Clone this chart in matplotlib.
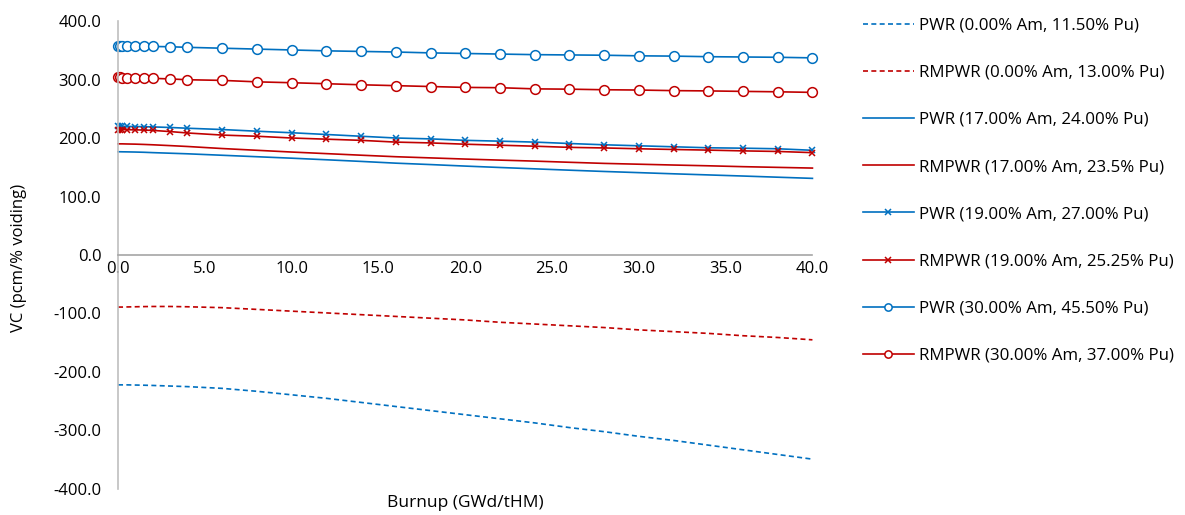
import matplotlib
matplotlib.use('Agg')
import matplotlib.pyplot as plt
from matplotlib.ticker import FormatStrFormatter

plt.rcParams['font.family'] = ['Open Sans', 'DejaVu Sans']

# burnup steps (GWd/tHM)
burnup = [0, 0.1, 0.25, 0.5, 1, 1.5, 2, 3, 4, 6, 8, 10, 12, 14, 16, 18, 20,
          22, 24, 26, 28, 30, 32, 34, 36, 38, 40]

# void coefficient (pcm/% voiding)
pwr_0 = [-222, -222, -222, -222, -222.3, -222.6, -223, -224, -225, -228, -233, -239,
         -245, -252, -259, -266, -273, -280, -287, -295, -302, -310, -317, -325,
         -333, -341, -349]
rmpwr_0 = [-89, -89, -89, -88.8, -88.5, -88.2, -88, -88, -88.5, -90, -93, -96,
           -99, -102, -105, -108, -111, -115, -118, -121, -124, -128, -131, -134,
           -138, -141, -145]
pwr_17 = [176.5, 176.5, 176.4, 176.3, 176, 175.6, 175, 174, 173, 170.5, 168, 165.5,
          162.8, 160, 157, 154.6, 152, 149.6, 147.3, 145, 142.8, 140.8, 138.8, 136.9,
          135, 133, 131]
rmpwr_17 = [190, 190, 190, 189.8, 189.5, 189, 188.4, 187, 185.5, 182, 179, 176,
            173.3, 170.6, 168, 166, 164, 162.2, 160.5, 158.5, 156.6, 155.2, 153.8,
            152.5, 151, 149.8, 148.6]
pwr_19 = [220, 220, 220, 219.8, 219.6, 219.3, 219, 218, 216.7, 214.5, 211.6, 209,
          206, 203, 200, 198.5, 196, 194.6, 193, 190.6, 188.4, 186.7, 185, 183.3,
          182.6, 181.6, 179]
rmpwr_19 = [214.5, 214.5, 214.4, 214.2, 214, 213.5, 213, 211, 208.6, 205, 203, 200,
            198, 196, 193, 191.6, 189.4, 187.7, 186, 184, 183, 181.6, 180.4, 179.3,
            178, 177, 175]
pwr_30 = [358, 358, 358, 357.5, 357, 357, 356.5, 356, 355, 353.5, 352, 350.5,
          349, 348, 347, 345.5, 344.5, 343.5, 342.5, 342, 341.5, 340.5, 340, 339,
          338.5, 338, 337]
rmpwr_30 = [303.5, 303.5, 303.4, 303.2, 303, 302.5, 302, 301, 299.6, 298.5, 296,
            294.5, 292.8, 291, 289.5, 288, 286.5, 286, 284, 283.5, 282.5, 282, 281,
            280.5, 279.7, 279, 278]

labels = ['PWR (0.00% Am, 11.50% Pu)', 'RMPWR (0.00% Am, 13.00% Pu)',
          'PWR (17.00% Am, 24.00% Pu)', 'RMPWR (17.00% Am, 23.5% Pu)',
          'PWR (19.00% Am, 27.00% Pu)', 'RMPWR (19.00% Am, 25.25% Pu)',
          'PWR (30.00% Am, 45.50% Pu)', 'RMPWR (30.00% Am, 37.00% Pu)']

blue = '#0070C0'
red = '#C00000'

fig = plt.figure(figsize=(11.85, 5.15), dpi=100)
ax = fig.add_axes([0.0996, 0.0505, 0.5860, 0.9087])

lw = 1.2
dash = (0, (3, 2))
ax.plot(burnup, pwr_0, color=blue, lw=lw, ls=dash, label=labels[0])
ax.plot(burnup, rmpwr_0, color=red, lw=lw, ls=dash, label=labels[1])
ax.plot(burnup, pwr_17, color=blue, lw=lw, label=labels[2])
ax.plot(burnup, rmpwr_17, color=red, lw=lw, label=labels[3])
ax.plot(burnup, pwr_19, color=blue, lw=lw, marker='x', ms=5, mew=1.1, label=labels[4])
ax.plot(burnup, rmpwr_19, color=red, lw=lw, marker='x', ms=5, mew=1.1, label=labels[5])
ax.plot(burnup, pwr_30, color=blue, lw=lw, marker='o', ms=7, mfc='white', mew=1.1,
        label=labels[6])
ax.plot(burnup, rmpwr_30, color=red, lw=lw, marker='o', ms=7, mfc='white', mew=1.1,
        label=labels[7])

ax.set_xlim(0, 40)
ax.set_ylim(-400, 400)
ax.set_xticks(range(0, 41, 5))
ax.set_yticks(range(-400, 401, 100))
ax.xaxis.set_major_formatter(FormatStrFormatter('%.1f'))
ax.yaxis.set_major_formatter(FormatStrFormatter('%.1f'))
ax.tick_params(length=0, labelsize=12, colors='black')
ax.tick_params(axis='x', pad=4)
ax.tick_params(axis='y', pad=12)

for s in ['top', 'right']:
    ax.spines[s].set_visible(False)
ax.spines['bottom'].set_position(('data', 0))
ax.spines['bottom'].set_color('#a6a6a6')
ax.spines['left'].set_color('#bfbfbf')
ax.spines['bottom'].set_linewidth(1.2)
ax.spines['left'].set_linewidth(1.2)
for m in ax.lines:
    m.set_clip_on(False)

fig.text(0.3926, 0.024, 'Burnup (GWd/tHM)', ha='center', va='center', fontsize=12.5)
fig.text(0.016, 0.5, 'VC (pcm/% voiding)', ha='center', va='center',
         rotation=90, fontsize=12)

leg = ax.legend(loc='upper left', bbox_to_anchor=(0.7223, 0.979),
                bbox_transform=fig.transFigure, frameon=False, fontsize=12.2,
                handlelength=3.0, handletextpad=0.35, labelspacing=1.84,
                numpoints=1, markerscale=0.75, borderaxespad=0)

fig.savefig('out.png', dpi=100)
